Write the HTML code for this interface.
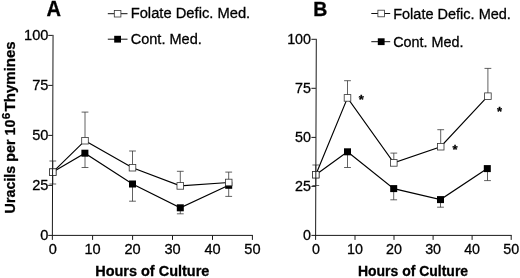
<!DOCTYPE html>
<html><head><meta charset="utf-8"><title>Uracils per 10^6 Thymines</title>
<style>html,body{margin:0;padding:0;background:#fff;}svg{display:block;filter:grayscale(1);}text{stroke:#000;stroke-width:0.3px;}</style></head>
<body>
<svg width="520" height="278" viewBox="0 0 520 278" font-family="'Liberation Sans', sans-serif" fill="#000" stroke="none">
<rect width="520" height="278" fill="#fff"/>
<g font-size="15.4" font-weight="bold"><text transform="translate(15.2,213.4) rotate(-90)" textLength="93.8" lengthAdjust="spacingAndGlyphs">Uracils per 10</text><text transform="translate(10.1,119.2) rotate(-90)" font-size="11.5">6</text><text transform="translate(15.2,111.4) rotate(-90)" textLength="70.1" lengthAdjust="spacingAndGlyphs">Thymines</text></g>
<g>
<polyline points="52.8,172.1 84.9,153.2 132.5,184.0 180.3,207.8 228.7,185.3" fill="none" stroke="#000" stroke-width="1.15" stroke-linejoin="miter"/>
<polyline points="52.8,172.1 85.0,140.7 132.5,167.7 180.3,185.9 228.7,182.5" fill="none" stroke="#000" stroke-width="1.15" stroke-linejoin="miter"/>
<path d="M52.8 172.0V161.0M49.4 161.0H56.2" stroke="#3a3a3a" stroke-width="0.8" fill="none"/>
<path d="M52.8 172.0V184.0M49.4 184.0H56.2" stroke="#3a3a3a" stroke-width="0.8" fill="none"/>
<path d="M85.0 140.0V112.1M81.6 112.1H88.4" stroke="#3a3a3a" stroke-width="0.8" fill="none"/>
<path d="M85.0 153.0V167.5M81.6 167.5H88.4" stroke="#3a3a3a" stroke-width="0.8" fill="none"/>
<path d="M132.5 167.0V151.0M129.1 151.0H135.9" stroke="#3a3a3a" stroke-width="0.8" fill="none"/>
<path d="M132.5 184.0V201.2M129.1 201.2H135.9" stroke="#3a3a3a" stroke-width="0.8" fill="none"/>
<path d="M180.3 185.0V171.3M176.9 171.3H183.7" stroke="#3a3a3a" stroke-width="0.8" fill="none"/>
<path d="M180.3 207.0V213.8M176.9 213.8H183.7" stroke="#3a3a3a" stroke-width="0.8" fill="none"/>
<path d="M228.7 182.0V172.1M225.3 172.1H232.1" stroke="#3a3a3a" stroke-width="0.8" fill="none"/>
<path d="M228.7 185.0V196.4M225.3 196.4H232.1" stroke="#3a3a3a" stroke-width="0.8" fill="none"/>
<rect x="49.3" y="168.6" width="7" height="7" fill="#000"/>
<rect x="81.4" y="149.7" width="7" height="7" fill="#000"/>
<rect x="129.0" y="180.5" width="7" height="7" fill="#000"/>
<rect x="176.8" y="204.3" width="7" height="7" fill="#000"/>
<rect x="225.2" y="181.8" width="7" height="7" fill="#000"/>
<rect x="49.5" y="168.8" width="6.6" height="6.6" fill="#fff" stroke="#333" stroke-width="0.8"/>
<rect x="81.7" y="137.4" width="6.6" height="6.6" fill="#fff" stroke="#333" stroke-width="0.8"/>
<rect x="129.2" y="164.4" width="6.6" height="6.6" fill="#fff" stroke="#333" stroke-width="0.8"/>
<rect x="177.0" y="182.6" width="6.6" height="6.6" fill="#fff" stroke="#333" stroke-width="0.8"/>
<rect x="225.4" y="179.2" width="6.6" height="6.6" fill="#fff" stroke="#333" stroke-width="0.8"/>
<path d="M53.05 34.9L52.35 239.9M48.2 235.4H252.9M48.2 185.4H52.7M48.2 135.4H52.7M48.2 85.4H52.7M48.2 35.4H52.7M92.6 235.4V239.9M132.6 235.4V239.9M172.5 235.4V239.9M212.5 235.4V239.9M252.4 235.4V239.9" stroke="#1a1a1a" stroke-width="1" fill="none"/>
<text x="48.4" y="240.15" font-size="15.3" text-anchor="end" textLength="8.12" lengthAdjust="spacingAndGlyphs">0</text>
<text x="48.4" y="190.15" font-size="15.3" text-anchor="end" textLength="16.24" lengthAdjust="spacingAndGlyphs">25</text>
<text x="48.4" y="140.15" font-size="15.3" text-anchor="end" textLength="16.24" lengthAdjust="spacingAndGlyphs">50</text>
<text x="48.4" y="90.15" font-size="15.3" text-anchor="end" textLength="16.24" lengthAdjust="spacingAndGlyphs">75</text>
<text x="48.4" y="40.15" font-size="15.3" text-anchor="end" textLength="24.35" lengthAdjust="spacingAndGlyphs">100</text>
<text x="52.7" y="254.0" font-size="15.3" text-anchor="middle" textLength="8.12" lengthAdjust="spacingAndGlyphs">0</text>
<text x="92.6" y="254.0" font-size="15.3" text-anchor="middle" textLength="16.24" lengthAdjust="spacingAndGlyphs">10</text>
<text x="132.6" y="254.0" font-size="15.3" text-anchor="middle" textLength="16.24" lengthAdjust="spacingAndGlyphs">20</text>
<text x="172.5" y="254.0" font-size="15.3" text-anchor="middle" textLength="16.24" lengthAdjust="spacingAndGlyphs">30</text>
<text x="212.5" y="254.0" font-size="15.3" text-anchor="middle" textLength="16.24" lengthAdjust="spacingAndGlyphs">40</text>
<text x="252.4" y="254.0" font-size="15.3" text-anchor="middle" textLength="16.24" lengthAdjust="spacingAndGlyphs">50</text>
<text x="95.2" y="276.4" font-size="14.5" font-weight="bold" textLength="114.2" lengthAdjust="spacingAndGlyphs">Hours of Culture</text>
<text x="46.4" y="15.7" font-size="21.2" font-weight="bold" textLength="14.5" lengthAdjust="spacingAndGlyphs">A</text>
<path d="M107.8 13.7H127.5M107.8 39.2H127.5" stroke="#111" stroke-width="1" fill="none"/>
<rect x="114.3" y="10.4" width="6.6" height="6.6" fill="#fff" stroke="#333" stroke-width="0.8"/>
<rect x="114.2" y="35.8" width="6.8" height="6.8" fill="#000"/>
<text x="130.7" y="18.3" font-size="15.3" textLength="119.5" lengthAdjust="spacingAndGlyphs">Folate Defic. Med.</text>
<text x="130.7" y="44.2" font-size="15.3" textLength="71.1" lengthAdjust="spacingAndGlyphs">Cont. Med.</text>
</g>
<g>
<polyline points="315.8,174.7 347.5,151.8 393.7,188.6 440.5,199.6 487.3,168.6" fill="none" stroke="#000" stroke-width="1.15" stroke-linejoin="miter"/>
<polyline points="315.8,174.7 347.5,97.9 393.8,162.9 440.7,146.7 487.9,96.2" fill="none" stroke="#000" stroke-width="1.15" stroke-linejoin="miter"/>
<path d="M315.8 174.0V165.0M312.4 165.0H319.2" stroke="#3a3a3a" stroke-width="0.8" fill="none"/>
<path d="M315.8 174.0V185.5M312.4 185.5H319.2" stroke="#3a3a3a" stroke-width="0.8" fill="none"/>
<path d="M347.5 97.0V80.7M344.1 80.7H350.9" stroke="#3a3a3a" stroke-width="0.8" fill="none"/>
<path d="M347.5 151.0V167.5M344.1 167.5H350.9" stroke="#3a3a3a" stroke-width="0.8" fill="none"/>
<path d="M393.8 162.0V153.1M390.4 153.1H397.2" stroke="#3a3a3a" stroke-width="0.8" fill="none"/>
<path d="M393.7 188.0V199.8M390.3 199.8H397.1" stroke="#3a3a3a" stroke-width="0.8" fill="none"/>
<path d="M440.7 146.0V129.7M437.3 129.7H444.1" stroke="#3a3a3a" stroke-width="0.8" fill="none"/>
<path d="M440.5 199.0V207.2M437.1 207.2H443.9" stroke="#3a3a3a" stroke-width="0.8" fill="none"/>
<path d="M487.9 96.0V68.4M484.5 68.4H491.3" stroke="#3a3a3a" stroke-width="0.8" fill="none"/>
<path d="M487.5 168.0V180.6M484.1 180.6H490.9" stroke="#3a3a3a" stroke-width="0.8" fill="none"/>
<rect x="312.3" y="171.2" width="7" height="7" fill="#000"/>
<rect x="344.0" y="148.3" width="7" height="7" fill="#000"/>
<rect x="390.2" y="185.1" width="7" height="7" fill="#000"/>
<rect x="437.0" y="196.1" width="7" height="7" fill="#000"/>
<rect x="483.8" y="165.1" width="7" height="7" fill="#000"/>
<rect x="312.5" y="171.4" width="6.6" height="6.6" fill="#fff" stroke="#333" stroke-width="0.8"/>
<rect x="344.2" y="94.6" width="6.6" height="6.6" fill="#fff" stroke="#333" stroke-width="0.8"/>
<rect x="390.5" y="159.6" width="6.6" height="6.6" fill="#fff" stroke="#333" stroke-width="0.8"/>
<rect x="437.4" y="143.4" width="6.6" height="6.6" fill="#fff" stroke="#333" stroke-width="0.8"/>
<rect x="484.6" y="92.9" width="6.6" height="6.6" fill="#fff" stroke="#333" stroke-width="0.8"/>
<path d="M316.30 38.8L315.60 239.9M311.4 235.4H511.7M311.4 186.4H315.9M311.4 137.4H315.9M311.4 88.3H315.9M311.4 39.3H315.9M355.0 235.4V239.9M394.0 235.4V239.9M433.1 235.4V239.9M472.1 235.4V239.9M511.2 235.4V239.9" stroke="#1a1a1a" stroke-width="1" fill="none"/>
<text x="311.0" y="240.15" font-size="15.0" text-anchor="end" textLength="7.95" lengthAdjust="spacingAndGlyphs">0</text>
<text x="311.0" y="191.12" font-size="15.0" text-anchor="end" textLength="15.90" lengthAdjust="spacingAndGlyphs">25</text>
<text x="311.0" y="142.10" font-size="15.0" text-anchor="end" textLength="15.90" lengthAdjust="spacingAndGlyphs">50</text>
<text x="311.0" y="93.07" font-size="15.0" text-anchor="end" textLength="15.90" lengthAdjust="spacingAndGlyphs">75</text>
<text x="311.0" y="44.05" font-size="15.0" text-anchor="end" textLength="23.85" lengthAdjust="spacingAndGlyphs">100</text>
<text x="315.9" y="254.0" font-size="15.0" text-anchor="middle" textLength="7.95" lengthAdjust="spacingAndGlyphs">0</text>
<text x="355.0" y="254.0" font-size="15.0" text-anchor="middle" textLength="15.90" lengthAdjust="spacingAndGlyphs">10</text>
<text x="394.0" y="254.0" font-size="15.0" text-anchor="middle" textLength="15.90" lengthAdjust="spacingAndGlyphs">20</text>
<text x="433.1" y="254.0" font-size="15.0" text-anchor="middle" textLength="15.90" lengthAdjust="spacingAndGlyphs">30</text>
<text x="472.1" y="254.0" font-size="15.0" text-anchor="middle" textLength="15.90" lengthAdjust="spacingAndGlyphs">40</text>
<text x="511.2" y="254.0" font-size="15.0" text-anchor="middle" textLength="15.90" lengthAdjust="spacingAndGlyphs">50</text>
<text x="357.9" y="276.0" font-size="14.5" font-weight="bold" textLength="110.2" lengthAdjust="spacingAndGlyphs">Hours of Culture</text>
<text x="313.2" y="15.9" font-size="19.5" font-weight="bold" textLength="14.1" lengthAdjust="spacingAndGlyphs">B</text>
<path d="M371.3 13.5H390.2M371.3 41.7H390.2" stroke="#111" stroke-width="1" fill="none"/>
<rect x="377.9" y="10.2" width="6.6" height="6.6" fill="#fff" stroke="#333" stroke-width="0.8"/>
<rect x="377.8" y="38.3" width="6.8" height="6.8" fill="#000"/>
<text x="393.2" y="18.8" font-size="15.3" textLength="117.7" lengthAdjust="spacingAndGlyphs">Folate Defic. Med.</text>
<text x="393.2" y="46.8" font-size="15.3" textLength="70.3" lengthAdjust="spacingAndGlyphs">Cont. Med.</text>
<text x="361.2" y="104.1" font-size="13" font-weight="bold" text-anchor="middle">*</text>
<text x="455.0" y="154.3" font-size="13" font-weight="bold" text-anchor="middle">*</text>
<text x="499.5" y="115.8" font-size="13" font-weight="bold" text-anchor="middle">*</text>
</g>
</svg>
</body></html>
